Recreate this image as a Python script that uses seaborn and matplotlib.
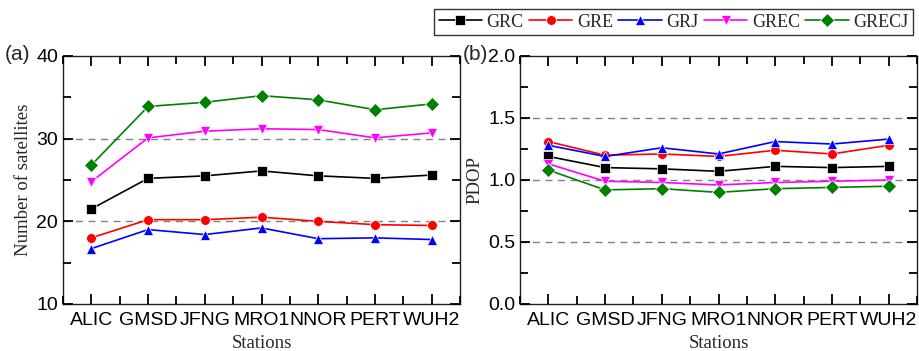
import numpy as np
import pandas as pd
import matplotlib
matplotlib.use("Agg")
import matplotlib.pyplot as plt
from matplotlib.ticker import MultipleLocator, FormatStrFormatter
import seaborn as sns

stations = ["ALIC", "GMSD", "JFNG", "MRO1", "NNOR", "PERT", "WUH2"]
series = ["GRC", "GRE", "GRJ", "GREC", "GRECJ"]

nsat_grc = [21.5, 25.2, 25.5, 26.1, 25.5, 25.2, 25.6]
nsat_gre = [18.0, 20.2, 20.2, 20.5, 20.0, 19.6, 19.5]
nsat_grj = [16.7, 19.0, 18.4, 19.2, 17.9, 18.0, 17.8]
nsat_grec = [24.8, 30.1, 30.9, 31.2, 31.1, 30.1, 30.7]
nsat_grecj = [26.8, 33.9, 34.4, 35.2, 34.7, 33.5, 34.2]

pdop_grc = [1.19, 1.10, 1.09, 1.07, 1.11, 1.10, 1.11]
pdop_gre = [1.31, 1.20, 1.21, 1.19, 1.24, 1.21, 1.28]
pdop_grj = [1.28, 1.19, 1.26, 1.21, 1.31, 1.29, 1.33]
pdop_grec = [1.13, 0.99, 0.98, 0.96, 0.98, 0.99, 1.00]
pdop_grecj = [1.08, 0.92, 0.93, 0.90, 0.93, 0.94, 0.95]

colors = {"GRC": "black", "GRE": "red", "GRJ": "blue", "GREC": "#ff00ff", "GRECJ": "#008000"}
markers = {"GRC": "s", "GRE": "o", "GRJ": "^", "GREC": "v", "GRECJ": "D"}

nsat = {"GRC": nsat_grc, "GRE": nsat_gre, "GRJ": nsat_grj, "GREC": nsat_grec, "GRECJ": nsat_grecj}
pdop = {"GRC": pdop_grc, "GRE": pdop_gre, "GRJ": pdop_grj, "GREC": pdop_grec, "GRECJ": pdop_grecj}

rows = []
for s in series:
    for i, st in enumerate(stations):
        rows.append({"Station": st, "Solution": s, "nsat": nsat[s][i], "pdop": pdop[s][i]})
df = pd.DataFrame(rows)

sns.set_style("ticks")
plt.rcParams["font.family"] = ["Liberation Sans", "DejaVu Sans"]
plt.rcParams["axes.axisbelow"] = False
plt.rcParams["xtick.direction"] = "in"
plt.rcParams["ytick.direction"] = "in"
plt.rcParams["xtick.color"] = "black"
plt.rcParams["ytick.color"] = "black"
plt.rcParams["xtick.top"] = True
plt.rcParams["ytick.right"] = True

fig = plt.figure(figsize=(9.19, 3.51), dpi=100)
ax1 = fig.add_axes([63/919, 1-304/351, (460-63)/919, (304-56)/351])
ax2 = fig.add_axes([520/919, 1-304/351, (917-520)/919, (304-56)/351])

serif = ["Liberation Serif", "DejaVu Serif"]

for ax, col, ylab, ylim, major, minor, grid in [
    (ax1, "nsat", "Number of satellites", (10, 40), 10, 5, [20, 30]),
    (ax2, "pdop", "PDOP", (0, 2.0), 0.5, 0.25, [0.5, 1.0, 1.5]),
]:
    for g in grid:
        ax.axhline(g, color="gray", ls=(0, (5, 4)), lw=1.0, zorder=0)
    sns.lineplot(data=df, x="Station", y=col, hue="Solution", style="Solution",
                 palette=colors, markers=markers, dashes=False, hue_order=series,
                 style_order=series, markersize=7, markeredgewidth=0.5, lw=1.2,
                 ax=ax, legend=(ax is ax1))
    ax.set_xlim(-0.5, 6.5)
    ax.set_ylim(*ylim)
    ax.yaxis.set_major_locator(MultipleLocator(major))
    ax.yaxis.set_minor_locator(MultipleLocator(minor))
    ax.xaxis.set_minor_locator(MultipleLocator(0.5))
    ax.tick_params(which="both", bottom=True, left=True, top=True, right=True,
                   direction="in", color="black", labelsize=14)
    ax.tick_params(which="major", length=7, width=1.3)
    ax.tick_params(which="minor", length=6, width=1.3)
    ax.tick_params(axis="x", which="major", pad=6)
    ax.set_xlabel("Stations", fontsize=13.5, family=serif, labelpad=4)
    ax.set_ylabel(ylab, fontsize=13.5, family=serif, labelpad=3)
    for sp in ax.spines.values():
        sp.set_linewidth(1.0)
        sp.set_color("#222222")

ax2.yaxis.set_major_formatter(FormatStrFormatter("%.1f"))

handles, labels = ax1.get_legend_handles_labels()
ax1.get_legend().remove()
leg = fig.legend(handles, labels, loc="upper right", ncol=5, bbox_to_anchor=(913/919, 1-9/351),
                 frameon=True, fancybox=False, edgecolor="black", prop={"family": serif, "size": 13},
                 handlelength=2.4, handletextpad=0.25, columnspacing=0.3, borderpad=0.25,
                 borderaxespad=0)
leg.get_frame().set_linewidth(1.0)

fig.text(5/919, 1-60/351, "(a)", fontsize=15, va="baseline")
fig.text(463/919, 1-60/351, "(b)", fontsize=15, va="baseline")

fig.savefig("out.png", dpi=100)
